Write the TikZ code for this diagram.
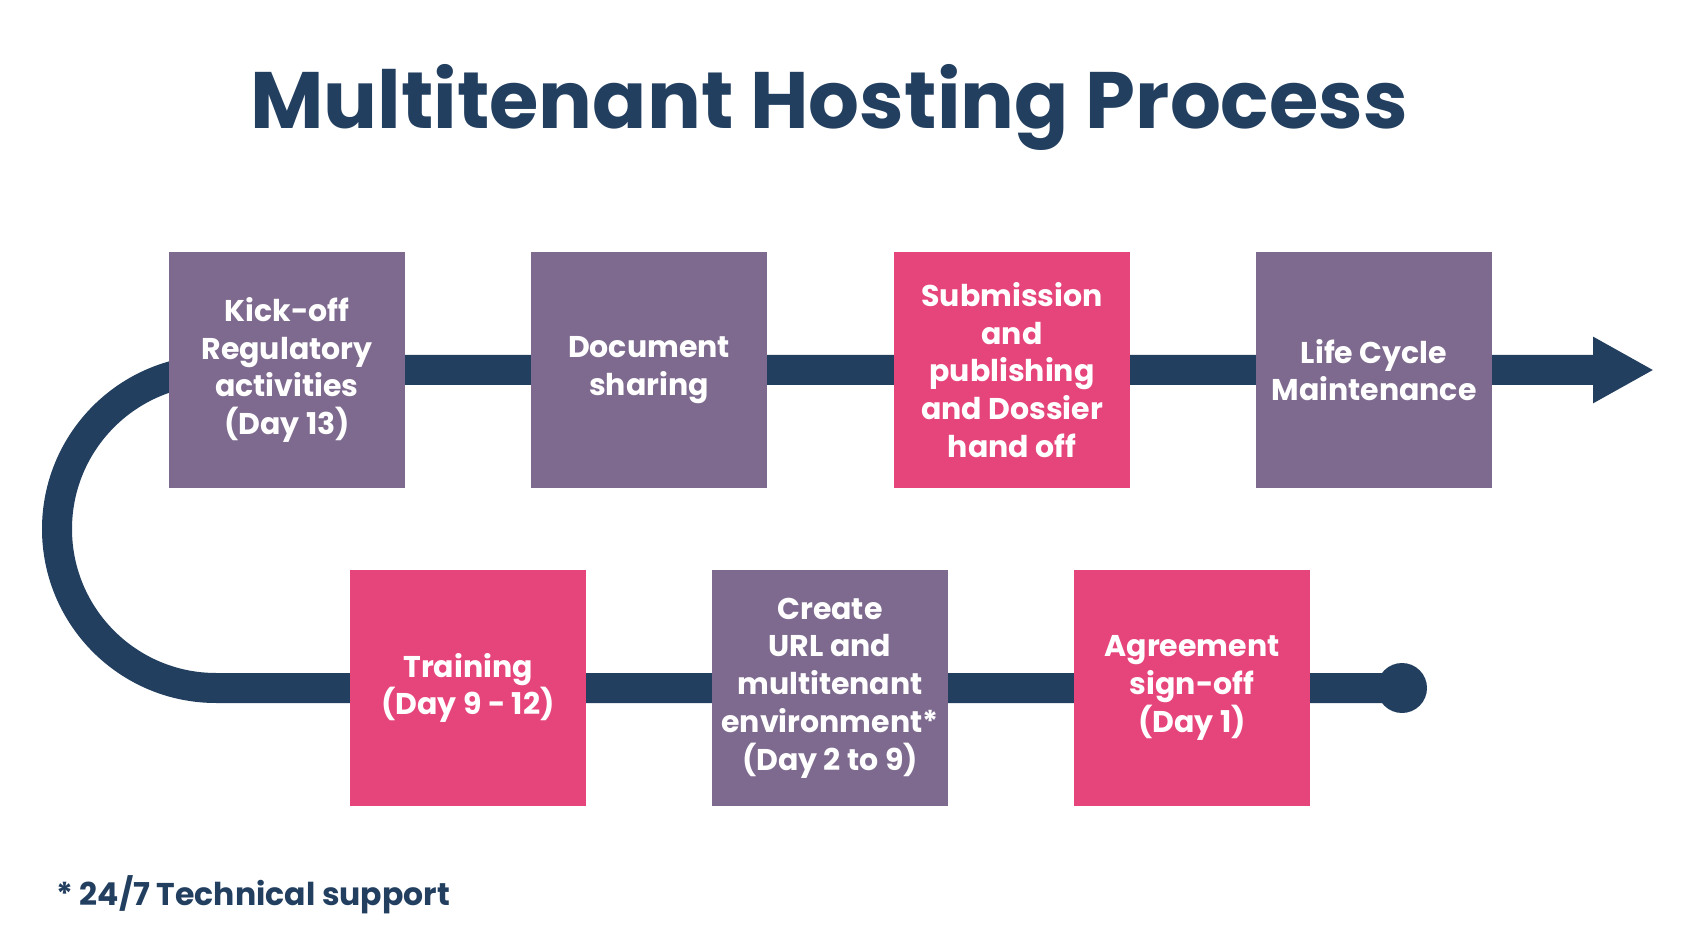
\documentclass[tikz,border=0pt]{standalone}
\usepackage{fontspec}
\setmainfont{Poppins}
\usetikzlibrary{arrows.meta,backgrounds}
\definecolor{navy}{HTML}{223F60}
\definecolor{plum}{HTML}{7E6A8F}
\definecolor{rose}{HTML}{E6457B}
\begin{document}
\begin{tikzpicture}[x=1pt,y=1pt,
  box/.style={minimum width=236pt,minimum height=236pt,inner sep=0pt,align=center,text=white,font=\fontsize{30}{37.7}\selectfont\bfseries},
  purplebox/.style={box,fill=plum},
  pinkbox/.style={box,fill=rose},
  track/.style={draw=navy,line width=30pt},
  titletext/.style={text=navy,font=\fontsize{80}{96}\selectfont\bfseries,inner sep=0pt},
  notetext/.style={text=navy,font=\fontsize{31.5}{38}\selectfont\bfseries,inner sep=0pt}
]
\useasboundingbox (0,0) rectangle (1684,938);
\node[titletext,anchor=base] (title) at (829,809) {Multitenant Hosting Process};
% top row
\node[purplebox] (kick) at (287,568) {Kick-off\\Regulatory\\activities\\(Day 13)};
\node[purplebox] (doc) at (649,568) {Document\\sharing};
\node[pinkbox] (sub) at (1012,568) {Submission\\and\\publishing\\and Dossier\\hand off};
\node[purplebox] (life) at (1374,568) {Life Cycle\\Maintenance};
% bottom row
\node[pinkbox] (train) at (468,250) {Training\\(Day 9 - 12)};
\node[purplebox] (create) at (830,250) {Create\\URL and\\multitenant\\environment*\\(Day 2 to 9)};
\node[pinkbox] (agree) at (1192,250) {Agreement\\sign-off\\(Day 1)};
\node[circle,fill=navy,minimum size=50pt,inner sep=0pt] (dot) at (1402,250) {};
\coordinate (tip) at (1654,568);
\node[notetext,anchor=base west] (note) at (56,33) {* 24/7 Technical support};
\begin{scope}[on background layer]
\fill[white] (0,0) rectangle (1684,938);
\draw[track,-{Triangle[length=61pt,width=62pt]}] (dot.center) -- (agree.center) -- (create.center) -- (train.center) -- (216,250) arc[start angle=270,end angle=90,radius=159] -- (kick.center) -- (doc.center) -- (sub.center) -- (life.center) -- (tip);
\end{scope}
\end{tikzpicture}
\end{document}
